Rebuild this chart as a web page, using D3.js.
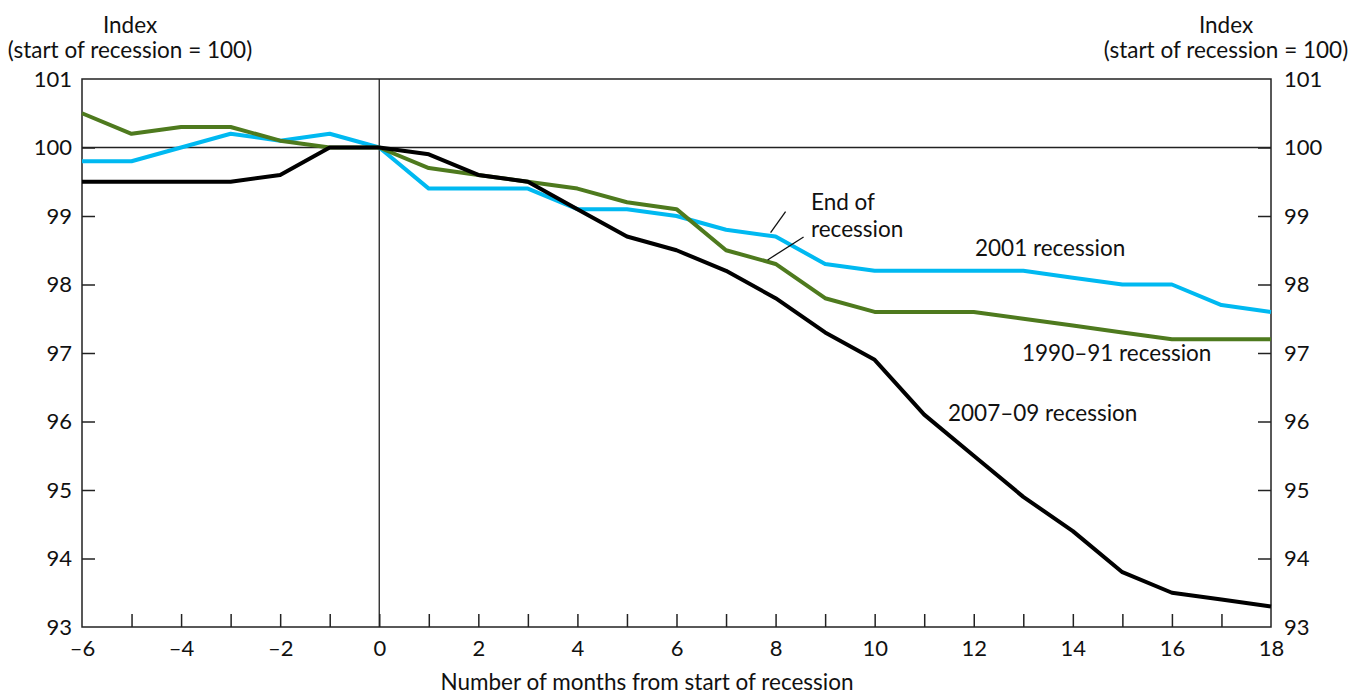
<!DOCTYPE html>
<html>
<head>
<meta charset="utf-8">
<script src="https://cdn.jsdelivr.net/npm/d3@7"></script>
<style>
  html, body { margin: 0; padding: 0; background: #fff; }
  svg text { font-family: Lato, "Liberation Sans", sans-serif; fill: #111; }
</style>
</head>
<body>
<svg id="chart" width="1362" height="696"></svg>
<script>
const months = d3.range(-6, 19);
const rec2007 = [99.5, 99.5, 99.5, 99.5, 99.6, 100.0, 100.0, 99.9, 99.6, 99.5, 99.1, 98.7, 98.5, 98.2, 97.8, 97.3, 96.9, 96.1, 95.5, 94.9, 94.4, 93.8, 93.5, 93.4, 93.3];
const rec2001 = [99.8, 99.8, 100.0, 100.2, 100.1, 100.2, 100.0, 99.4, 99.4, 99.4, 99.1, 99.1, 99.0, 98.8, 98.7, 98.3, 98.2, 98.2, 98.2, 98.2, 98.1, 98.0, 98.0, 97.7, 97.6];
const rec1990 = [100.5, 100.2, 100.3, 100.3, 100.1, 100.0, 100.0, 99.7, 99.6, 99.5, 99.4, 99.2, 99.1, 98.5, 98.3, 97.8, 97.6, 97.6, 97.6, 97.5, 97.4, 97.3, 97.2, 97.2, 97.2];
const xTickLabels = [-6, -4, -2, 0, 2, 4, 6, 8, 10, 12, 14, 16, 18];
const yTickLabels = [93, 94, 95, 96, 97, 98, 99, 100, 101];
const endOfRecessionMonth = 8;

const svg = d3.select("#chart");
const L = 82, R = 1271, T = 79, B = 627;
const x = d3.scaleLinear().domain([-6, 18]).range([L, R]);
const y = d3.scaleLinear().domain([93, 101]).range([B, T]);

const fmt = d => d < 0 ? "\u2013" + Math.abs(d) : String(d);

// frame
svg.append("rect").attr("x", L).attr("y", T).attr("width", R - L).attr("height", B - T)
  .attr("fill", "none").attr("stroke", "#222").attr("stroke-width", 1.5);

// reference lines
svg.append("line").attr("x1", L).attr("x2", R).attr("y1", y(100)).attr("y2", y(100))
  .attr("stroke", "#222").attr("stroke-width", 1.3);
svg.append("line").attr("x1", x(0)).attr("x2", x(0)).attr("y1", T).attr("y2", B)
  .attr("stroke", "#222").attr("stroke-width", 1.3);

// axes
const leftAxis = d3.axisLeft(y).tickValues(yTickLabels).tickSize(-13).tickPadding(10).tickFormat(d3.format("d"));
const gl = svg.append("g").attr("transform", `translate(${L},0)`).call(leftAxis);
const rightAxis = d3.axisRight(y).tickValues(yTickLabels).tickSize(-13).tickPadding(13).tickFormat(d3.format("d"));
const gr = svg.append("g").attr("transform", `translate(${R},0)`).call(rightAxis);
const bottomAxis = d3.axisBottom(x).ticks(24).tickSize(-13).tickPadding(13)
  .tickFormat(d => xTickLabels.includes(d) ? fmt(d) : "");
const gb = svg.append("g").attr("transform", `translate(0,${B})`).call(bottomAxis);
[gl, gr, gb].forEach(g => {
  g.select(".domain").remove();
  g.selectAll(".tick line").attr("stroke", "#222").attr("stroke-width", 1.5);
  g.selectAll(".tick text").style("font-size", "22px").style("font-family", "Lato, sans-serif").attr("fill", "#111");
});
gl.selectAll(".tick").filter(d => d === 93 || d === 101).select("line").remove();
gr.selectAll(".tick").filter(d => d === 93 || d === 101).select("line").remove();
gb.selectAll(".tick").filter(d => d === -6 || d === 18).select("line").remove();

// lines
const line = d3.line().x((d, i) => x(months[i])).y(d => y(d));
const series = [
  { data: rec2001, color: "#00b9f1" },
  { data: rec1990, color: "#4e7a1e" },
  { data: rec2007, color: "#000000" }
];
series.forEach(s => {
  svg.append("path").datum(s.data).attr("d", line).attr("fill", "none")
    .attr("stroke", s.color).attr("stroke-width", 4).attr("stroke-linejoin", "round");
});

// end-of-recession leaders
const i8 = months.indexOf(endOfRecessionMonth);
svg.append("line").attr("x1", x(endOfRecessionMonth) - 5).attr("y1", y(rec2001[i8]) - 4)
  .attr("x2", x(endOfRecessionMonth) + 10).attr("y2", y(rec2001[i8]) - 25)
  .attr("stroke", "#111").attr("stroke-width", 1.3);
svg.append("line").attr("x1", x(endOfRecessionMonth) - 8).attr("y1", y(rec1990[i8]) - 4)
  .attr("x2", x(endOfRecessionMonth) + 28).attr("y2", y(rec1990[i8]) - 27)
  .attr("stroke", "#111").attr("stroke-width", 1.3);

const text = (t, xx, yy, anchor) => svg.append("text").attr("x", xx).attr("y", yy)
  .attr("text-anchor", anchor || "start").style("font-size", "22.5px").text(t);

text("End of", 811, 210);
text("recession", 811, 237);
text("2001 recession", 975, 256);
text("1990\u201391 recession", 1022, 361);
text("2007\u201309 recession", 948, 421);

text("Index", 130, 33, "middle");
text("(start of recession = 100)", 130, 58, "middle");
text("Index", 1226, 33, "middle");
text("(start of recession = 100)", 1226, 58, "middle");
text("Number of months from start of recession", 647, 690, "middle");
</script>
</body>
</html>
